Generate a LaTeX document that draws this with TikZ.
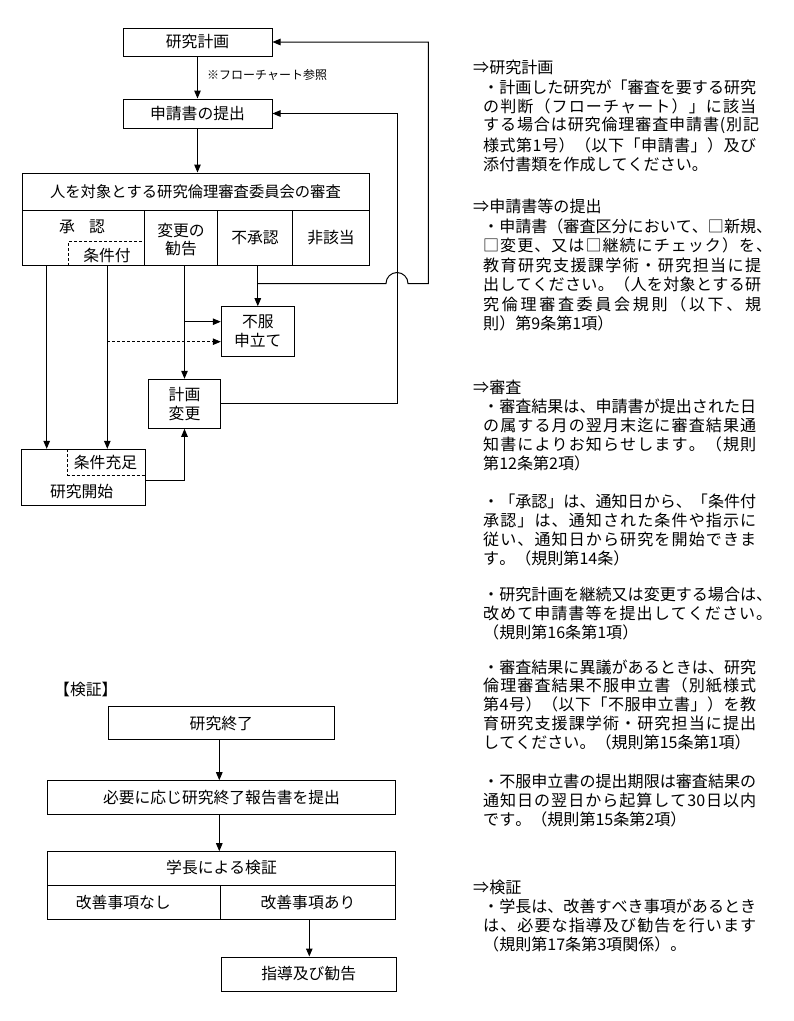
\documentclass[tikz,border=0pt]{standalone}
\usepackage{fontspec}
\setmainfont{Noto Sans CJK JP}
\usetikzlibrary{arrows.meta}
\newcommand\myLf{\fontsize{15.8}{18.7}\selectfont}
\newcommand\myTf{\fontsize{15.3}{18.7}\selectfont}
\newcommand\myRf{\fontsize{16.05}{18}\selectfont}
\newcommand\mySf{\fontsize{12}{14}\selectfont}
% inter-character glue for justified CJK lines
\newcount\mycc
\mycc="3000
\loop \XeTeXcharclass\mycc=1 \advance\mycc by 1 \ifnum\mycc<"A000 \repeat
\mycc="FF00
\loop \XeTeXcharclass\mycc=1 \advance\mycc by 1 \ifnum\mycc<"FFF0 \repeat
\XeTeXinterchartokenstate=1
\XeTeXinterchartoks 1 1 = {\hskip 0pt plus 1pt\relax}
\XeTeXinterchartoks 0 1 = {\hskip 0pt plus 1pt\relax}
\XeTeXinterchartoks 1 0 = {\hskip 0pt plus 1pt\relax}
\newcommand\myJ[2]{\makebox[#1][s]{#2}}
\begin{document}
\begin{tikzpicture}[x=1pt,y=-1pt,
  box/.style={draw, line width=1pt, inner sep=0pt, align=center, font=\myLf},
  lbl/.style={inner sep=0pt, font=\myLf},
  rt/.style={anchor=west, inner sep=0pt, font=\myRf},
  ln/.style={line width=1pt},
  arr/.style={line width=1pt, -{Triangle[length=8pt,width=6.5pt]}},
  dsh/.style={line width=0.8pt, dash pattern=on 3pt off 2pt},
]
\useasboundingbox (0,0) rectangle (794,1021);

% ---------- top flow ----------
\node[box, minimum width=149pt, minimum height=28pt] (keikaku) at (197.5,42) {研究計画};
\node[box, minimum width=149pt, minimum height=29pt] (shinsei) at (197.5,113.5) {申請書の提出};
\node[lbl, font=\mySf, anchor=west] (note) at (207,75) {※フローチャート参照};
\draw[arr] (keikaku.south) -- (shinsei.north);

\node[box, minimum width=347pt, minimum height=92.5pt] (shinsa) at (195.5,219.25) {};
\node[lbl, font=\myTf] (shtitle) at (195.5,192) {人を対象とする研究倫理審査委員会の審査};
\draw[arr] (shinsei.south) -- (shinsei.south |- shinsa.north);
\draw[ln] (22,210.7) -- (369,210.7);
\draw[ln] (144.7,210.7) -- (144.7,265.5);
\draw[ln] (217.3,210.7) -- (217.3,265.5);
\draw[ln] (292.7,210.7) -- (292.7,265.5);
\draw[dsh] (68.7,265.5) -- (68.7,241) -- (144.7,241);
\node[lbl] (shonin) at (82,227) {承\hspace{0.9em}認};
\node[lbl] (joken) at (107,255) {条件付};
\node[lbl, align=center] (henkoku) at (181,239.5) {変更の\\勧告};
\node[lbl] (fushonin) at (255,238) {不承認};
\node[lbl] (higaito) at (331,238) {非該当};

\node[box, minimum width=73pt, minimum height=49.6pt] (fufuku) at (257.8,331.5) {不服\\申立て};
\node[box, minimum width=72.4pt, minimum height=49pt] (henko) at (184.5,403.8) {計画\\変更};
\node[box, minimum width=124pt, minimum height=56.4pt] (kaishi) at (83.7,477.5) {};
\draw[dsh] (67.3,449.3) -- (67.3,475) -- (145.7,475);
\node[lbl] (juusoku) at (105.5,462) {条件充足};
\node[lbl] (kaishit) at (81.7,492) {研究開始};

\coordinate (b1) at (46.7,265.5);
\coordinate (b2) at (107.3,265.5);
\coordinate (b3) at (184.5,265.5);
\coordinate (b4) at (257.8,265.5);
\draw[arr] (b1) -- (b1 |- kaishi.north);
\draw[arr] (b2) -- (b2 |- kaishi.north);
\draw[arr] (b3) -- (henko.north);
\draw[arr] (b4) -- (fufuku.north);
\coordinate (j1) at (184.5,321.7);
\draw[arr] (j1) -- (j1 -| fufuku.west);
\coordinate (j2) at (107.3,341.7);
\draw[dsh, -{Triangle[length=8pt,width=6.5pt]}] (j2) -- (j2 -| fufuku.west);
\coordinate (j3) at (257.8,283.5);
\draw[arr] (j3) -- (386,283.5) arc[start angle=180, end angle=360, radius=11] -- (428.3,283.5) -- (428.3,42) -- (keikaku.east);
\draw[arr] (henko.east) -- (397,403.8) -- (397,113.5) -- (shinsei.east);
\coordinate (k1) at (145.7,480);
\draw[arr] (k1) -- (184.5,480) -- (henko.south);

% ---------- bottom flow ----------
\node[lbl] (kensho) at (85.8,689) {【検証】};
\node[box, minimum width=226pt, minimum height=33.3pt] (shuryo) at (221.3,723.3) {研究終了};
\node[box, minimum width=348.4pt, minimum height=33.6pt] (hokoku) at (221.5,797.5) {必要に応じ研究終了報告書を提出};
\node[box, minimum width=348.4pt, minimum height=67.3pt] (gakucho) at (221.5,885.35) {};
\node[lbl] (gtitle) at (221.5,867.7) {学長による検証};
\draw[ln] (47.3,885) -- (395.7,885);
\draw[ln] (220.3,885) -- (220.3,919);
\node[lbl] (nashi) at (123.3,902) {改善事項なし};
\node[lbl] (ari) at (308,902) {改善事項あり};
\node[box, minimum width=174.7pt, minimum height=34pt] (shido) at (308.65,974) {指導及び勧告};
\coordinate (s1) at (219.3,740);
\draw[arr] (s1) -- (s1 |- hokoku.north);
\coordinate (s2) at (219.3,814.3);
\draw[arr] (s2) -- (s2 |- gakucho.north);
\coordinate (s3) at (309.3,919);
\draw[arr] (s3) -- (s3 |- shido.north);

% ---------- right text ----------
\node[rt] (h1) at (473,67) {⇒研究計画};
\node[rt] (t11) at (483,87) {\myJ{273pt}{・計画した研究が「審査を要する研究}};
\node[rt] (t12) at (483,106) {\myJ{273pt}{の判断（フローチャート）」に該当}};
\node[rt] (t13) at (483,125.5) {\myJ{276pt}{する場合は研究倫理審査申請書(別記}};
\node[rt] (t14) at (483,145) {\myJ{273pt}{様式第1号）（以下「申請書」）及び}};
\node[rt] (t15) at (483,164.5) {添付書類を作成してください。};

\node[rt] (h2) at (473,206) {⇒申請書等の提出};
\node[rt] (t21) at (483,226) {\myJ{289pt}{・申請書（審査区分において、□新規、}};
\node[rt] (t22) at (483,245.5) {\myJ{289pt}{□変更、又は□継続にチェック）を、}};
\node[rt] (t23) at (483,265) {\myJ{278pt}{教育研究支援課学術・研究担当に提}};
\node[rt] (t24) at (483,284.5) {\myJ{278pt}{出してください。（人を対象とする研}};
\node[rt] (t25) at (483,304) {\myJ{278pt}{究倫理審査委員会規則（以下、規}};
\node[rt] (t26) at (483,323.5) {則）第9条第1項）};

\node[rt] (h3) at (473,387) {⇒審査};
\node[rt] (t31) at (483,406) {\myJ{273pt}{・審査結果は、申請書が提出された日}};
\node[rt] (t32) at (483,425) {\myJ{273pt}{の属する月の翌月末迄に審査結果通}};
\node[rt] (t33) at (483,444) {\myJ{273pt}{知書によりお知らせします。（規則}};
\node[rt] (t34) at (483,463) {第12条第2項）};
\node[rt] (t41) at (483,501) {\myJ{273pt}{・「承認」は、通知日から、「条件付}};
\node[rt] (t42) at (483,520) {\myJ{273pt}{承認」は、通知された条件や指示に}};
\node[rt] (t43) at (483,539) {\myJ{273pt}{従い、通知日から研究を開始できま}};
\node[rt] (t44) at (483,558) {す。（規則第14条）};
\node[rt] (t51) at (483,594) {\myJ{289pt}{・研究計画を継続又は変更する場合は、}};
\node[rt] (t52) at (483,613) {\myJ{289pt}{改めて申請書等を提出してください。}};
\node[rt] (t53) at (483,632) {（規則第16条第1項）};
\node[rt] (t61) at (483,667) {\myJ{273pt}{・審査結果に異議があるときは、研究}};
\node[rt] (t62) at (483,685.8) {\myJ{273pt}{倫理審査結果不服申立書（別紙様式}};
\node[rt] (t63) at (483,704.6) {\myJ{273pt}{第4号）（以下「不服申立書」）を教}};
\node[rt] (t64) at (483,723.4) {\myJ{273pt}{育研究支援課学術・研究担当に提出}};
\node[rt] (t65) at (483,742.2) {してください。（規則第15条第1項）};
\node[rt] (t71) at (483,781) {\myJ{273pt}{・不服申立書の提出期限は審査結果の}};
\node[rt] (t72) at (483,800) {\myJ{273pt}{通知日の翌日から起算して30日以内}};
\node[rt] (t73) at (483,819) {です。（規則第15条第2項）};

\node[rt] (h4) at (473,887) {⇒検証};
\node[rt] (t81) at (483,906) {\myJ{273pt}{・学長は、改善すべき事項があるとき}};
\node[rt] (t82) at (483,925) {\myJ{273pt}{は、必要な指導及び勧告を行います}};
\node[rt] (t83) at (483,944) {（規則第17条第3項関係）。};
\end{tikzpicture}
\end{document}
